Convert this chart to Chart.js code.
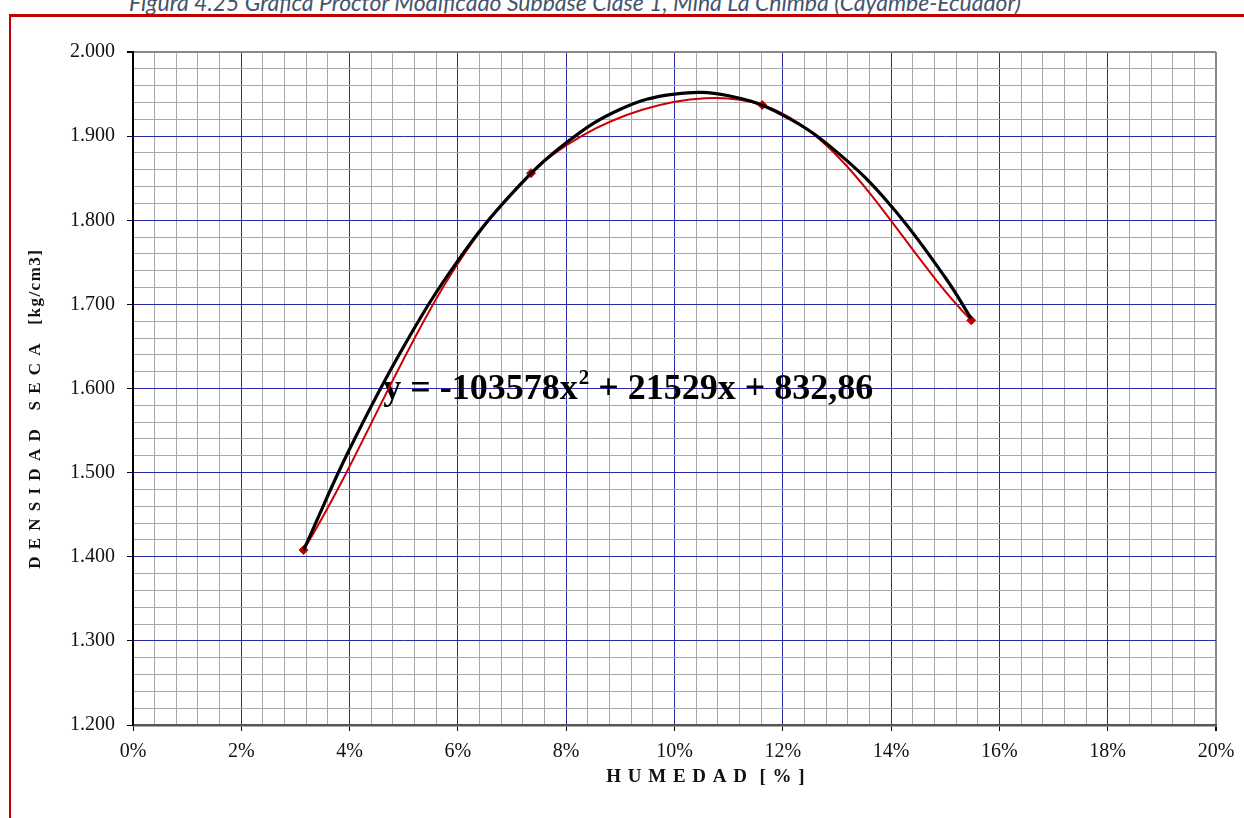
<!DOCTYPE html>
<html>
<head>
<meta charset="utf-8">
<script src="https://cdn.jsdelivr.net/npm/chart.js@4.4.1/dist/chart.umd.min.js"></script>
<style>
  body { margin: 0; background: #fff; width: 1244px; height: 818px; overflow: hidden; position: relative; }
  #caption {
    position: absolute; left: 0; width: 1150px; top: -9px;
    text-align: center; font: italic 23px Lato, "Open Sans", sans-serif;
    line-height: 23px; color: #44546a; white-space: nowrap;
  }
  #frame {
    position: absolute; left: 9px; top: 14px; width: 1300px; height: 900px;
    border-left: 2px solid #c00000; border-top: 3px solid #c00000;
  }
  #wrap { position: absolute; left: 0; top: 0; width: 1244px; height: 818px; }
</style>
</head>
<body>
<div id="caption">Figura 4.25 Gráfica Proctor Modificado Subbase Clase 1, Mina La Chimba (Cayambe-Ecuador)</div>
<div id="frame"></div>
<div id="wrap"><canvas id="myChart"></canvas></div>
<script>
// humedad [%] y densidad seca de los ensayos
const humedad = [3.15, 7.35, 11.62, 15.48];
const densidad = [1.408, 1.856, 1.937, 1.681];

// curva de tendencia
const trendHumedad = [3.15, 4, 5, 6, 7, 8, 9, 10, 11, 12, 13, 14, 15, 15.48];
const trendDensidad = [1.408, 1.528, 1.650, 1.752, 1.832, 1.892, 1.932, 1.950, 1.948, 1.925, 1.881, 1.817, 1.732, 1.683];

const equation = ["y = -103578x", "2", " + 21529x + 832,86"];

const xMin = 0, xMax = 20, xMajor = 2, xMinor = 0.4;
const yMin = 1.2, yMax = 2.0, yMajor = 0.1, yMinor = 0.02;

const serif = "'Liberation Serif', 'Times New Roman', serif";
const blue = "#2a2aa6";
const gray = "#a8a8a8";

const isMajor = (v, step) => Math.abs(v / step - Math.round(v / step)) < 1e-6;

const toPoints = (xs, ys) => xs.map((x, i) => ({ x: x, y: ys[i] }));

const gridOpts = (step, max, edgeColor) => ({
  color: (c) => {
    const v = c.tick ? c.tick.value : 0;
    if (Math.abs(v - max) < 1e-6) return edgeColor;
    return isMajor(v, step) ? blue : gray;
  },
  lineWidth: (c) => {
    const v = c.tick ? c.tick.value : 0;
    return Math.abs(v - max) < 1e-6 ? 2 : 1;
  },
  tickColor: (c) => (c.tick && isMajor(c.tick.value, step) ? "#000" : "rgba(0,0,0,0)"),
  tickLength: 6,
});

const labelsPlugin = {
  id: "labels",
  beforeDatasetsDraw(chart) {
    const { ctx, scales } = chart;
    const x0 = scales.x.getPixelForValue(4.62);
    const y0 = scales.y.getPixelForValue(1.588);
    ctx.save();
    ctx.fillStyle = "#000";
    ctx.textBaseline = "alphabetic";
    ctx.font = "bold 36px " + serif;
    ctx.fillText(equation[0], x0, y0);
    let w = ctx.measureText(equation[0]).width;
    ctx.font = "bold 21px " + serif;
    ctx.fillText(equation[1], x0 + w + 1, y0 - 15);
    w += ctx.measureText(equation[1]).width + 1;
    ctx.font = "bold 36px " + serif;
    ctx.fillText(equation[2], x0 + w, y0);
    ctx.restore();
  },
  afterDraw(chart) {
    const { ctx, chartArea } = chart;
    ctx.save();
    ctx.fillStyle = "#111";
    ctx.font = "bold 19px " + serif;
    ctx.letterSpacing = "1px";
    ctx.textAlign = "center";
    ctx.fillText("H U M E D A D  [ % ]", chartArea.left + (chartArea.right - chartArea.left) * 0.529, chartArea.bottom + 57);
    ctx.translate(chartArea.left - 93, chartArea.top + (chartArea.bottom - chartArea.top) * 0.53);
    ctx.rotate(-Math.PI / 2);
    ctx.font = "bold 17px " + serif;
    ctx.letterSpacing = "1.5px";
    ctx.fillText("D E N S I D A D   S E C A   [kg/cm3]", 0, 0);
    ctx.restore();
  },
};

const ctx = document.getElementById("myChart");

new Chart(ctx, {
  type: "scatter",
  data: {
    datasets: [
      {
        label: "Tendencia",
        data: toPoints(trendHumedad, trendDensidad),
        showLine: true,
        borderColor: "#000",
        borderWidth: 3.2,
        pointRadius: 0,
        tension: 0.4,
        order: 0,
      },
      {
        label: "Ensayo",
        data: toPoints(humedad, densidad),
        showLine: true,
        borderColor: "#cc0000",
        backgroundColor: "#c00000",
        borderWidth: 2,
        pointStyle: "rectRot",
        pointRadius: 4.5,
        pointBorderWidth: 1,
        tension: 0.35,
        order: 1,
      },
    ],
  },
  options: {
    responsive: true,
    maintainAspectRatio: false,
    animation: false,
    layout: { padding: { top: 52, right: 28, left: 0, bottom: 0 } },
    plugins: { legend: { display: false }, tooltip: { enabled: false } },
    scales: {
      x: {
        type: "linear",
        min: xMin,
        max: xMax,
        afterFit: (s) => { s.height = 93; },
        ticks: {
          stepSize: xMinor,
          autoSkip: false,
          maxRotation: 0,
          padding: 9,
          color: "#111",
          font: { family: serif, size: 20 },
          callback: (v) => (isMajor(v, xMajor) ? Math.round(v) + "%" : ""),
        },
        grid: gridOpts(xMajor, xMax, "#888"),
        border: { color: "#555", width: 2.5 },
      },
      y: {
        type: "linear",
        min: yMin,
        max: yMax,
        afterFit: (s) => { s.width = 133; },
        ticks: {
          stepSize: yMinor,
          autoSkip: false,
          padding: 12,
          color: "#111",
          font: { family: serif, size: 20 },
          callback: (v) => (isMajor(v, yMajor) ? v.toFixed(3) : ""),
        },
        grid: gridOpts(yMajor, yMax, "#888"),
        border: { color: "#000", width: 2 },
      },
    },
  },
  plugins: [labelsPlugin],
});
</script>
</body>
</html>
